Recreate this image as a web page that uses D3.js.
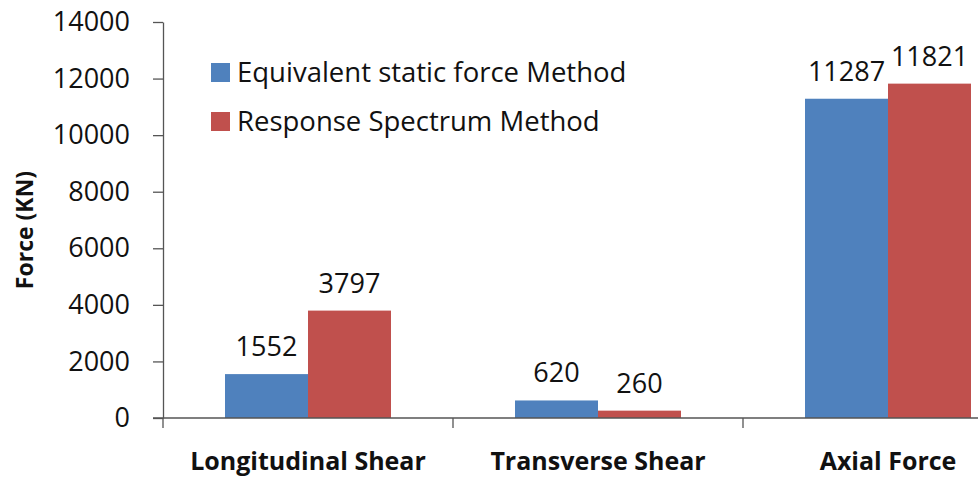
<!DOCTYPE html>
<html><head><meta charset="utf-8">
<script src="https://cdn.jsdelivr.net/npm/d3@7"></script>
<style>body{margin:0;background:#fff;} svg{display:block;}</style>
</head><body>
<svg id="chart" width="978" height="477"></svg>
<script>
const categories = ["Longitudinal Shear", "Transverse Shear", "Axial Force"];
const seriesNames = ["Equivalent static force Method", "Response Spectrum Method"];
const equivalentStatic = [1552, 620, 11287];
const responseSpectrum = [3797, 260, 11821];
const yTicks = [0, 2000, 4000, 6000, 8000, 10000, 12000, 14000];
const colors = ["#4F81BD", "#C0504D"];

(function () {
const svg = d3.select("#chart");
const font = "'Open Sans', sans-serif";
const plotLeft = 163, plotTop = 22, plotBottom = 418, step = 290;

const y = d3.scaleLinear().domain([0, 14000]).range([plotBottom, plotTop]);
const x0 = d3.scaleBand().domain(categories).range([plotLeft, plotLeft + step * categories.length]).padding(0);
const x1 = d3.scaleBand().domain(seriesNames).range([0, x0.bandwidth()]).paddingInner(0).paddingOuter(0.747);

const data = categories.map((c, i) => ({cat: c, vals: [equivalentStatic[i], responseSpectrum[i]]}));

const g = svg.append("g");
data.forEach(d => {
  d.vals.forEach((v, j) => {
    const xx = x0(d.cat) + x1(seriesNames[j]);
    g.append("rect").attr("x", xx).attr("y", y(v))
      .attr("width", x1.bandwidth()).attr("height", y(0) - y(v)).attr("fill", colors[j]);
    g.append("text").attr("x", xx + x1.bandwidth() / 2).attr("y", y(v) - 18)
      .attr("text-anchor", "middle").attr("font-family", font).attr("font-size", 27)
      .attr("fill", "#111").text(v);
  });
});

const yAxis = d3.axisLeft(y).tickValues(yTicks).tickFormat(d3.format("d"))
  .tickSize(10).tickSizeOuter(0).tickPadding(23);
const ya = svg.append("g").attr("transform", `translate(${plotLeft},0)`).call(yAxis);
ya.select(".domain").attr("stroke", "#555").attr("stroke-width", 1.3);
ya.selectAll(".tick line").attr("stroke", "#555").attr("stroke-width", 1.3);
ya.selectAll(".tick text").attr("font-family", font).attr("font-size", 27).attr("fill", "#111");

const xAxis = d3.axisBottom(x0).tickSize(0).tickPadding(34);
const xa = svg.append("g").attr("transform", `translate(0,${plotBottom})`).call(xAxis);
xa.select(".domain").remove();
svg.append("line").attr("x1", plotLeft - 10).attr("x2", 978).attr("y1", plotBottom).attr("y2", plotBottom)
  .attr("stroke", "#555").attr("stroke-width", 1.3);
d3.range(categories.length + 1).forEach(i => {
  const xx = plotLeft + step * i;
  svg.append("line").attr("x1", xx).attr("x2", xx).attr("y1", plotBottom).attr("y2", plotBottom + 10)
    .attr("stroke", "#555").attr("stroke-width", 1.3);
});
xa.selectAll(".tick text").attr("font-family", font).attr("font-size", 25)
  .attr("font-weight", "bold").attr("fill", "#111");

svg.append("text").attr("transform", "translate(33,230) rotate(-90)")
  .attr("text-anchor", "middle").attr("font-family", font).attr("font-size", 23)
  .attr("font-weight", "bold").attr("fill", "#111").text("Force (KN)");

seriesNames.forEach((s, i) => {
  const cy = 72 + i * 49;
  svg.append("rect").attr("x", 211).attr("y", cy - 9).attr("width", 19).attr("height", 19).attr("fill", colors[i]);
  svg.append("text").attr("x", 237).attr("y", cy + 10).attr("font-family", font).attr("font-size", 27.5)
    .attr("fill", "#111").text(s);
});
})();
</script>
</body></html>
